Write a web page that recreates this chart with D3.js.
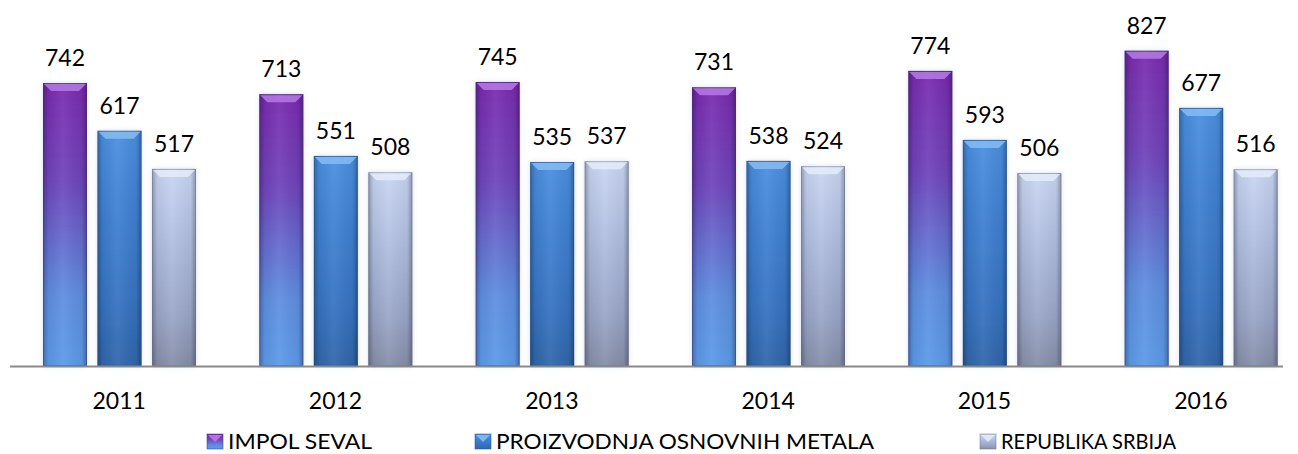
<!DOCTYPE html>
<html>
<head>
<meta charset="utf-8">
<script src="https://cdn.jsdelivr.net/npm/d3@7"></script>
<style>
  html, body { margin: 0; padding: 0; background: #fff; }
  svg { display: block; }
  text { font-family: Lato, "Open Sans", sans-serif; fill: #000; font-weight: 400; }
</style>
</head>
<body>
<svg id="chart" width="1298" height="454"></svg>
<script>
const years = ["2011", "2012", "2013", "2014", "2015", "2016"];
const seriesNames = ["IMPOL SEVAL", "PROIZVODNJA OSNOVNIH METALA", "REPUBLIKA SRBIJA"];
const impolSeval = [742, 713, 745, 731, 774, 827];
const proizvodnja = [617, 551, 535, 538, 593, 677];
const srbija = [517, 508, 537, 524, 506, 516];
const seriesValues = [impolSeval, proizvodnja, srbija];

const styles = [
  { id: "p", stops: ["#7a2aae", "#6f45bb", "#5e8ee0", "#5c9ae8"], cap: "#b77ae6", edge: "#4a2c80" },
  { id: "b", stops: ["#4a8fe0", "#3f80d2", "#3672c0", "#2f66aa"], cap: "#86bdf2", edge: "#24508a" },
  { id: "g", stops: ["#c9d6f2", "#b2c0e2", "#9aa6c8", "#868ea8"], cap: "#e4ecfa", edge: "#6a7088" }
];

const svg = d3.select("#chart");
const defs = svg.append("defs");
styles.forEach(s => {
  const g = defs.append("linearGradient").attr("id", "grad-" + s.id)
    .attr("x1", 0).attr("y1", 0).attr("x2", 0).attr("y2", 1);
  [0, 0.35, 0.75, 1].forEach((o, i) => g.append("stop").attr("offset", o).attr("stop-color", s.stops[i]));
});
const side = defs.append("linearGradient").attr("id", "side")
  .attr("x1", 0).attr("y1", 0).attr("x2", 1).attr("y2", 0);
[[0, "#000", 0.28], [0.12, "#000", 0.05], [0.45, "#fff", 0.06], [0.88, "#000", 0.05], [1, "#000", 0.3]]
  .forEach(d => side.append("stop").attr("offset", d[0]).attr("stop-color", d[1]).attr("stop-opacity", d[2]));
const glow = defs.append("filter").attr("id", "glow").attr("x", "-30%").attr("y", "-5%").attr("width", "160%").attr("height", "110%");
glow.append("feGaussianBlur").attr("in", "SourceAlpha").attr("stdDeviation", 2.5).attr("result", "b");
glow.append("feFlood").attr("flood-color", "#9fb4dc").attr("flood-opacity", 0.45);
glow.append("feComposite").attr("in2", "b").attr("operator", "in").attr("result", "s");
const m = glow.append("feMerge");
m.append("feMergeNode").attr("in", "s");
m.append("feMergeNode").attr("in", "SourceGraphic");

const baseY = 366;
const y = d3.scaleLinear().domain([0, 960]).range([baseY, 0]);
const x0 = d3.scaleBand().domain(years).range([11, 1309]);
const x1 = d3.scaleBand().domain(d3.range(3)).range([32, 185]).paddingInner(0.193);
const bw = x1.bandwidth();

const data = [];
years.forEach((yr, i) => seriesValues.forEach((vals, s) => data.push({ yr, s, v: vals[i] })));

const bars = svg.append("g").selectAll("g.bar").data(data).join("g")
  .attr("class", "bar")
  .attr("transform", d => `translate(${x0(d.yr) + x1(d.s)},0)`);

bars.append("rect")
  .attr("x", 0).attr("y", d => y(d.v)).attr("width", bw).attr("height", d => baseY - y(d.v))
  .attr("fill", d => `url(#grad-${styles[d.s].id})`)
  .attr("filter", "url(#glow)");
bars.append("rect")
  .attr("x", 0).attr("y", d => y(d.v)).attr("width", bw).attr("height", d => baseY - y(d.v))
  .attr("fill", "url(#side)");
bars.append("rect")
  .attr("x", 0.5).attr("y", d => y(d.v) + 0.5).attr("width", bw - 1).attr("height", d => baseY - y(d.v) - 1)
  .attr("fill", "none").attr("stroke", d => styles[d.s].edge).attr("stroke-opacity", 0.45);
bars.append("path")
  .attr("d", d => {
    const t = y(d.v) + 1;
    return `M1,${t} L${bw - 1},${t} L${bw - 8},${t + 7} L8,${t + 7} Z`;
  })
  .attr("fill", d => styles[d.s].cap).attr("opacity", 0.85);

svg.append("g").selectAll("text.val").data(data).join("text")
  .attr("class", "val")
  .attr("x", d => x0(d.yr) + x1(d.s) + bw / 2)
  .attr("y", d => y(d.v) - 17)
  .attr("text-anchor", "middle")
  .attr("font-size", 23)
  .text(d => d.v);

svg.append("line")
  .attr("x1", 10).attr("x2", 1283).attr("y1", baseY + 0.5).attr("y2", baseY + 0.5)
  .attr("stroke", "#8a8a8a").attr("stroke-width", 2);

svg.append("g").selectAll("text.yr").data(years).join("text")
  .attr("class", "yr")
  .attr("x", d => x0(d) + x0.bandwidth() / 2)
  .attr("y", 409)
  .attr("text-anchor", "middle")
  .attr("font-size", 23)
  .text(d => d);

const legendX = [207, 475, 980];
const legendW = [144, 378, 175];
const leg = svg.append("g").selectAll("g.leg").data(seriesNames).join("g")
  .attr("class", "leg")
  .attr("transform", (d, i) => `translate(${legendX[i]},434)`);
leg.append("rect").attr("width", 16).attr("height", 15)
  .attr("fill", (d, i) => `url(#grad-${styles[i].id})`)
  .attr("stroke", (d, i) => styles[i].edge).attr("stroke-opacity", 0.5);
leg.append("path").attr("d", "M1,1 L15,1 L8,8 Z")
  .attr("fill", (d, i) => styles[i].cap).attr("opacity", 0.9);
leg.append("text")
  .attr("x", 21).attr("y", 15)
  .attr("font-size", 22)
  .attr("textLength", (d, i) => legendW[i])
  .attr("lengthAdjust", "spacingAndGlyphs")
  .text(d => d);
</script>
</body>
</html>
